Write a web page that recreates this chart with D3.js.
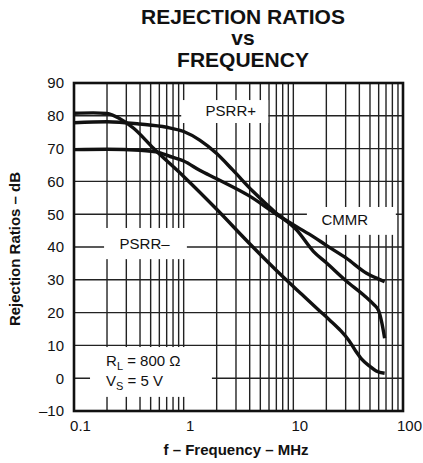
<!DOCTYPE html>
<html>
<head>
<meta charset="utf-8">
<script src="https://cdn.jsdelivr.net/npm/d3@7"></script>
<style>
  body { margin: 0; background: #fff; }
  text { font-family: "Liberation Sans", Arial, sans-serif; fill: #111; }
</style>
</head>
<body>
<script>
// data: frequency in MHz, rejection in dB
var psrrPlus = [[0.1, 77.9], [0.2, 78.2], [0.4, 77.5], [0.7, 76.5], [1, 75.2], [1.4, 72.6], [2, 68.5], [2.8, 63.5], [4.3, 56.9], [7, 50.3], [10.7, 45.2], [15.3, 38.6], [20, 35.2], [30, 29.8], [45, 25], [54, 22.5], [60, 20.5], [64, 17], [68, 12.2]];
var cmmr = [[0.1, 69.7], [0.2, 69.8], [0.4, 69.5], [0.6, 68.8], [0.8, 67.3], [1, 66.2], [1.4, 63.4], [2, 60.8], [4, 55.5], [7, 50], [10.7, 46.2], [15.3, 43.1], [20, 40.5], [30.4, 36.6], [46.5, 32], [60, 30.2], [68, 29.4]];
var psrrMinus = [[0.1, 80.8], [0.15, 80.9], [0.2, 80.7], [0.26, 79.2], [0.35, 76.2], [0.53, 70.1], [1, 61.5], [2, 51.5], [4, 41], [8, 31], [12, 25.5], [17, 20.8], [21.5, 17.7], [27, 14.5], [32, 11.6], [37, 8.3], [42, 5.8], [50, 3.6], [57, 2.2], [68, 1.5]];

var xTicks = [0.1, 1, 10, 100];
var yTicks = [-10, 0, 10, 20, 30, 40, 50, 60, 70, 80, 90];
var xGrid = [];
[0.1, 1, 10].forEach(function (d) {
    for (var k = 1; k < 10; k++) xGrid.push(d * k);
});

// label boxes in data units: [f0, f1, dB0, dB1]
var labelBoxes = [
    { text: "PSRR+", box: [0.95, 5.9, 77.8, 84.8], at: [2.69, 79.9] },
    { text: "PSRR\u2013", box: [0.188, 1.07, 36.3, 45.8], at: [0.44, 39.4] },
    { text: "CMMR", box: [13.3, 86, 43.7, 52.2], at: [29.5, 46.7] }
];

function plot_it() {
    var width = 423, height = 463;
    var pl = 74, pr = 403, pt = 83, pb = 411;

    var svg = d3.select('body').append('svg').attr('width', width).attr('height', height);
    svg.append('rect').attr('width', width).attr('height', height).attr('fill', '#fff');

    var x = d3.scaleLog().domain([0.1, 100]).range([pl, pr]);
    var y = d3.scaleLinear().domain([-10, 90]).range([pb, pt]);

    // title
    var title = svg.append('g').attr('font-weight', 'bold').attr('text-anchor', 'middle');
    title.append('text').attr('x', 243).attr('y', 24).attr('font-size', 21).text('REJECTION RATIOS');
    title.append('text').attr('x', 243).attr('y', 45).attr('font-size', 21).text('vs');
    title.append('text').attr('x', 243).attr('y', 66.5).attr('font-size', 21).text('FREQUENCY');

    // grid
    svg.append('g').selectAll('line')
        .data(xGrid).enter().append('line')
        .attr('x1', d => x(d)).attr('x2', d => x(d))
        .attr('y1', pt).attr('y2', pb)
        .attr('stroke', '#222').attr('stroke-width', 1.4);

    svg.append('g').selectAll('line')
        .data(yTicks).enter().append('line')
        .attr('x1', pl).attr('x2', pr)
        .attr('y1', d => y(d)).attr('y2', d => y(d))
        .attr('stroke', '#222').attr('stroke-width', 1.4);

    // white label boxes over grid
    var lab = svg.append('g');
    labelBoxes.forEach(function (l) {
        lab.append('rect')
            .attr('x', x(l.box[0])).attr('y', y(l.box[3]))
            .attr('width', x(l.box[1]) - x(l.box[0]))
            .attr('height', y(l.box[2]) - y(l.box[3]))
            .attr('fill', '#fff');
        lab.append('text')
            .attr('x', x(l.at[0])).attr('y', y(l.at[1]))
            .attr('text-anchor', 'middle').attr('font-size', 15)
            .text(l.text);
    });

    // conditions box
    lab.append('rect')
        .attr('x', x(0.14)).attr('y', y(9.5))
        .attr('width', x(1.81) - x(0.14))
        .attr('height', y(-5.7) - y(9.5))
        .attr('fill', '#fff');
    var t1 = lab.append('text').attr('x', x(0.196)).attr('y', y(3.7)).attr('font-size', 15);
    t1.append('tspan').text('R');
    t1.append('tspan').attr('font-size', 11).attr('dy', 4).text('L');
    t1.append('tspan').attr('dy', -4).text(' = 800 \u03A9');
    var t2 = lab.append('text').attr('x', x(0.196)).attr('y', y(-2.4)).attr('font-size', 15);
    t2.append('tspan').text('V');
    t2.append('tspan').attr('font-size', 11).attr('dy', 4).text('S');
    t2.append('tspan').attr('dy', -4).text(' = 5 V');

    // curves
    var line = d3.line().x(d => x(d[0])).y(d => y(d[1])).curve(d3.curveMonotoneX);
    svg.append('g').selectAll('path')
        .data([psrrPlus, cmmr, psrrMinus]).enter()
        .append('path')
        .attr('d', line)
        .attr('fill', 'none')
        .attr('stroke', '#111')
        .attr('stroke-width', 3.4)
        .attr('stroke-linejoin', 'round');

    // frame
    svg.append('rect')
        .attr('x', pl).attr('y', pt)
        .attr('width', pr - pl).attr('height', pb - pt)
        .attr('fill', 'none').attr('stroke', '#111').attr('stroke-width', 2.6);

    // axes labels
    var yAxis = svg.append('g').attr('transform', 'translate(' + pl + ',0)')
        .call(d3.axisLeft(y).tickValues(yTicks).tickSize(0).tickPadding(10).tickFormat(d => d < 0 ? '\u2013' + Math.abs(d) : d));
    yAxis.select('.domain').remove();
    yAxis.selectAll('text').attr('font-size', 15).attr('fill', '#111');
    yAxis.attr('font-family', null).attr('font-size', null);

    var xAxis = svg.append('g').attr('transform', 'translate(6,' + pb + ')')
        .call(d3.axisBottom(x).tickValues(xTicks).tickSize(0).tickPadding(9).tickFormat(d => d));
    xAxis.select('.domain').remove();
    xAxis.selectAll('text').attr('font-size', 15).attr('fill', '#111');
    xAxis.attr('font-family', null).attr('font-size', null);

    svg.append('text')
        .attr('x', 236).attr('y', 455)
        .attr('text-anchor', 'middle').attr('font-weight', 'bold').attr('font-size', 15)
        .text('f \u2013 Frequency \u2013 MHz');

    svg.append('text')
        .attr('transform', 'translate(20,249) rotate(-90)')
        .attr('text-anchor', 'middle').attr('font-weight', 'bold').attr('font-size', 15)
        .text('Rejection Ratios \u2013 dB');
}
plot_it();
</script>
</body>
</html>
